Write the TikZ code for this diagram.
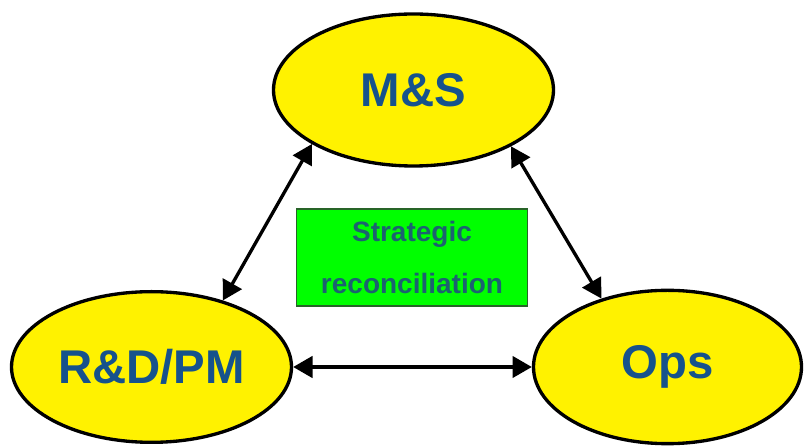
\documentclass[tikz,border=0pt]{standalone}
\usepackage{fontspec}
\setmainfont{Liberation Sans}
\usetikzlibrary{arrows.meta,shapes.geometric}

\definecolor{labelblue}{RGB}{22,82,140}
\definecolor{boxtext}{RGB}{28,98,112}
\definecolor{boxedge}{RGB}{40,100,40}

\begin{document}
\begin{tikzpicture}[x=0.75pt,y=0.75pt,>={Triangle[length=14.5pt,width=16pt]},
        unit/.style={ellipse,draw=black,fill=yellow,line width=2.5pt,inner sep=0pt,
          text=labelblue,font=\fontsize{35.5}{42}\selectfont\bfseries},
        link/.style={<->,line width=2.5pt}]
      \useasboundingbox (0,0) rectangle (804,446);

      \node[unit,minimum width=210pt,minimum height=114pt] (MS)  at (413.5,356) {M\&S};
      \node[unit,minimum width=210pt,minimum height=113pt] (RD)  at (151.5,79)  {R\&D/PM};
      \node[unit,minimum width=201pt,minimum height=115pt] (OPS) at (667.5,79)  {Ops};

      \node[rectangle,draw=boxedge,fill=green,line width=1.1pt,minimum width=173pt,
        minimum height=73pt,align=center,text=boxtext,
        font=\fontsize{21}{39}\selectfont\bfseries] (SR) at (412,188.5)
        {Strategic\\reconciliation};

      \path (MS.208) edge[link] (RD.43);
      \path (MS.330) edge[link] (OPS.134);
      \path (RD.east) edge[link] (OPS.west);
      \end{tikzpicture}
\end{document}
